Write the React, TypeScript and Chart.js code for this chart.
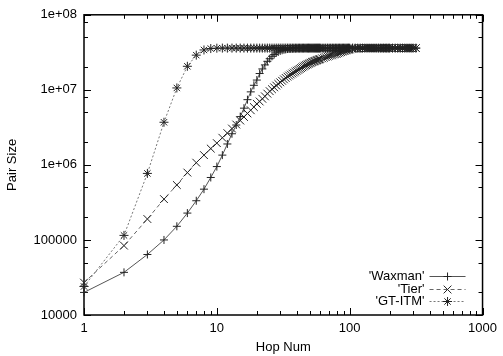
import React, { useEffect, useRef } from "react";
import { Chart, registerables } from "chart.js";

Chart.register(...registerables);

const P = 36000000;

const hops = [
  1, 2, 3, 4, 5, 6, 7, 8, 9, 10, 11, 12, 13, 14, 15, 16, 17, 18, 19, 20,
  21, 22, 23, 24, 25, 26, 27, 28, 29, 30, 31, 32, 33, 34, 35, 36, 37, 38, 39, 40,
  41, 42, 43, 44, 45, 46, 47, 48, 49, 50, 51, 52, 53, 54, 55, 56, 57, 58, 59, 60,
  62, 64, 66, 68, 70, 72, 74, 76, 78, 80, 82, 84, 86, 88, 90, 92, 94, 96, 98, 100,
  105, 110, 115, 120, 125, 130, 135, 140, 145, 150, 155, 160, 165, 170, 175, 180, 185, 190, 195, 200,
  210, 220, 230, 240, 250, 260, 270, 280, 290, 300, 315,
];

const waxman = [
  20000, 37000, 64000, 100000, 152000, 228000, 333000, 475000, 680000, 950000,
  1350000, 1900000, 2600000, 3400000, 4400000, 5700000, 7400000, 9400000, 11500000, 13500000,
  16500000, 19000000, 21500000, 24000000, 26000000, 28000000, 29500000, 31000000, 32000000, 33000000,
  33700000, 34200000, 34600000, 35000000, 35200000, 35400000, 35500000, 35600000, 35700000, 35800000,
  35850000, 35900000, 35900000, 35950000, 35950000, P, P, P, P, P,
  P, P, P, P, P, P, P, P, P, P,
  P, P, P, P, P, P, P, P, P, P, P, P, P, P, P, P, P, P, P, P,
  P, P, P, P, P, P, P, P, P, P, P, P, P, P, P, P, P, P, P, P,
  P, P, P, P, P, P, P, P, P, P, P,
];

const tier = [
  27000, 84000, 190000, 350000, 540000, 790000, 1070000, 1350000, 1650000, 1950000,
  2300000, 2650000, 3050000, 3450000, 3900000, 4350000, 4850000, 5350000, 5900000, 6500000,
  7000000, 7600000, 8200000, 8900000, 9600000, 10200000, 10800000, 11400000, 12000000, 12600000,
  13200000, 13800000, 14400000, 15000000, 15500000, 16000000, 16500000, 17000000, 17500000, 18000000,
  18500000, 19000000, 19500000, 20000000, 20500000, 21000000, 21400000, 21800000, 22200000, 22600000,
  23000000, 23400000, 23700000, 24000000, 24300000, 24600000, 24900000, 25200000, 25500000, 25800000,
  26300000, 26800000, 27300000, 27800000, 28300000, 28800000, 29200000, 29600000, 30000000, 30400000,
  30900000, 31400000, 31900000, 32400000, 32800000, 33200000, 33600000, 34000000, 34300000, 34600000,
  35100000, 35500000, 35800000, P, P, P, P, P, P, P, P, P, P, P, P, P, P, P, P, P,
  P, P, P, P, P, P, P, P, P, P, P,
];

const gtitm = [
  24000, 115000, 770000, 3700000, 10600000, 20600000, 29000000, 34000000, 35500000, 35900000,
  P, P, P, P, P, P, P, P, P, P,
  P, P, P, P, P, P, P, P, P, P,
  P, P, P, P, P, P, P, P, P, P,
  P, P, P, P, P, P, P, P, P, P,
  P, P, P, P, P, P, P, P, P, P,
  P, P, P, P, P, P, P, P, P, P, P, P, P, P, P, P, P, P, P, P,
  P, P, P, P, P, P, P, P, P, P, P, P, P, P, P, P, P, P, P, P,
  P, P, P, P, P, P, P, P, P, P, P,
];

const seriesNames = ["'Waxman'", "'Tier'", "'GT-ITM'"];
const xTickValues = [1, 10, 100, 1000];
const xTickLabels = ["1", "10", "100", "1000"];
const yTickValues = [10000, 100000, 1000000, 10000000, 100000000];
const yTickLabels = ["10000", "100000", "1e+06", "1e+07", "1e+08"];
const xMinorMultiples = [2, 3, 4, 5, 6, 7, 8, 9];
const yMinorMultiples = [2, 5, 8];

const FONT = 'Arial, "Liberation Sans", Helvetica, sans-serif';

function drawMarker(ctx: CanvasRenderingContext2D, style: string, x: number, y: number, r: number) {
  ctx.beginPath();
  if (style === "cross" || style === "star") {
    ctx.moveTo(x - r, y);
    ctx.lineTo(x + r, y);
    ctx.moveTo(x, y - r);
    ctx.lineTo(x, y + r);
  }
  if (style === "crossRot" || style === "star") {
    const d = r * Math.SQRT1_2;
    ctx.moveTo(x - d, y - d);
    ctx.lineTo(x + d, y + d);
    ctx.moveTo(x - d, y + d);
    ctx.lineTo(x + d, y - d);
  }
  ctx.stroke();
}

const gnuplotFrame = {
  id: "gnuplotFrame",
  beforeDatasetsDraw(chart: any) {
    const { ctx, chartArea: a, scales } = chart;
    const xs = scales.x;
    const ys = scales.y;
    ctx.save();
    ctx.strokeStyle = "#000";
    ctx.lineWidth = 1.5;
    ctx.strokeRect(a.left, a.top, a.right - a.left, a.bottom - a.top);
    ctx.lineWidth = 1;
    const seg = (x1: number, y1: number, x2: number, y2: number) => {
      ctx.beginPath();
      ctx.moveTo(x1, y1);
      ctx.lineTo(x2, y2);
      ctx.stroke();
    };
    xTickValues.forEach((base, d) => {
      const px = Math.round(xs.getPixelForValue(base)) + 0.5;
      seg(px, a.bottom, px, a.bottom - 7);
      seg(px, a.top, px, a.top + 7);
      if (d < xTickValues.length - 1) {
        xMinorMultiples.forEach((m) => {
          const p = Math.round(xs.getPixelForValue(base * m)) + 0.5;
          seg(p, a.bottom, p, a.bottom - 4);
          seg(p, a.top, p, a.top + 4);
        });
      }
    });
    yTickValues.forEach((base, d) => {
      const py = Math.round(ys.getPixelForValue(base)) + 0.5;
      seg(a.left, py, a.left + 7, py);
      seg(a.right, py, a.right - 7, py);
      if (d < yTickValues.length - 1) {
        yMinorMultiples.forEach((m) => {
          const p = Math.round(ys.getPixelForValue(base * m)) + 0.5;
          seg(a.left, p, a.left + 4, p);
          seg(a.right, p, a.right - 4, p);
        });
      }
    });
    ctx.restore();
  },
  afterDraw(chart: any) {
    const { ctx, chartArea: a } = chart;
    ctx.save();
    chart.data.datasets.forEach((ds: any, i: number) => {
      const y = Math.round(a.bottom - 39 + i * 12.7) + 0.5;
      ctx.font = `13px ${FONT}`;
      ctx.fillStyle = "#000";
      ctx.textAlign = "right";
      ctx.textBaseline = "middle";
      ctx.fillText(ds.label, a.right - 58, y);
      ctx.strokeStyle = ds.borderColor;
      ctx.lineWidth = 1;
      ctx.setLineDash(ds.borderDash || []);
      ctx.beginPath();
      ctx.moveTo(a.right - 53, y);
      ctx.lineTo(a.right - 17, y);
      ctx.stroke();
      ctx.setLineDash([]);
      ctx.strokeStyle = ds.pointBorderColor;
      drawMarker(ctx, ds.pointStyle, a.right - 35, y, ds.pointRadius);
    });
    ctx.restore();
  },
};

export default function App() {
  const ref = useRef<HTMLCanvasElement>(null);

  useEffect(() => {
    if (!ref.current) return;
    const mk = (vals: number[]) => hops.map((h, i) => ({ x: h, y: vals[i] }));
    const chart = new Chart(ref.current, {
      type: "line",
      data: {
        datasets: [
          {
            label: seriesNames[0],
            data: mk(waxman),
            borderColor: "#555",
            borderWidth: 1,
            pointStyle: "cross",
            pointRadius: 4,
            pointBorderColor: "#222",
            pointBorderWidth: 1,
            fill: false,
            clip: false,
          } as any,
          {
            label: seriesNames[1],
            data: mk(tier),
            borderColor: "#666",
            borderWidth: 1,
            borderDash: [4, 3],
            pointStyle: "crossRot",
            pointRadius: 5.5,
            pointBorderColor: "#222",
            pointBorderWidth: 1,
            fill: false,
            clip: false,
          } as any,
          {
            label: seriesNames[2],
            data: mk(gtitm),
            borderColor: "#777",
            borderWidth: 1,
            borderDash: [2, 2],
            pointStyle: "star",
            pointRadius: 4.5,
            pointBorderColor: "#222",
            pointBorderWidth: 1,
            fill: false,
            clip: false,
          } as any,
        ],
      },
      options: {
        responsive: false,
        animation: false,
        events: [],
        layout: { padding: { top: 13, right: 15, bottom: 0, left: 0 } },
        plugins: { legend: { display: false }, tooltip: { enabled: false } },
        scales: {
          x: {
            type: "logarithmic",
            min: 1,
            max: 1000,
            grid: { display: false, drawTicks: false },
            border: { display: false },
            afterBuildTicks: (s: any) => {
              s.ticks = xTickValues.map((v) => ({ value: v }));
            },
            afterFit: (s: any) => {
              s.height = 41;
            },
            ticks: {
              autoSkip: false,
              maxRotation: 0,
              padding: 6,
              color: "#000",
              font: { family: FONT, size: 13 },
              callback: (v: any) => {
                const i = xTickValues.indexOf(Number(v));
                return i >= 0 ? xTickLabels[i] : "";
              },
            },
            title: {
              display: true,
              text: "Hop Num",
              color: "#000",
              font: { family: FONT, size: 13 },
              padding: { top: 1, bottom: 1 },
            },
          },
          y: {
            type: "logarithmic",
            min: 10000,
            max: 100000000,
            grid: { display: false, drawTicks: false },
            border: { display: false },
            afterBuildTicks: (s: any) => {
              s.ticks = yTickValues.map((v) => ({ value: v }));
            },
            afterFit: (s: any) => {
              s.width = 84;
            },
            ticks: {
              autoSkip: false,
              padding: 7,
              color: "#000",
              font: { family: FONT, size: 13 },
              callback: (v: any) => {
                const i = yTickValues.indexOf(Number(v));
                return i >= 0 ? yTickLabels[i] : "";
              },
            },
            title: {
              display: true,
              text: "Pair Size",
              color: "#000",
              font: { family: FONT, size: 13 },
              padding: { top: 5, bottom: 4 },
            },
          },
        },
      },
      plugins: [gnuplotFrame],
    });
    return () => chart.destroy();
  }, []);

  return (
    <div style={{ position: "fixed", left: 0, top: 0, width: 503, height: 356, background: "#fff" }}>
      <canvas ref={ref} width={503} height={356} style={{ display: "block" }} />
    </div>
  );
}
